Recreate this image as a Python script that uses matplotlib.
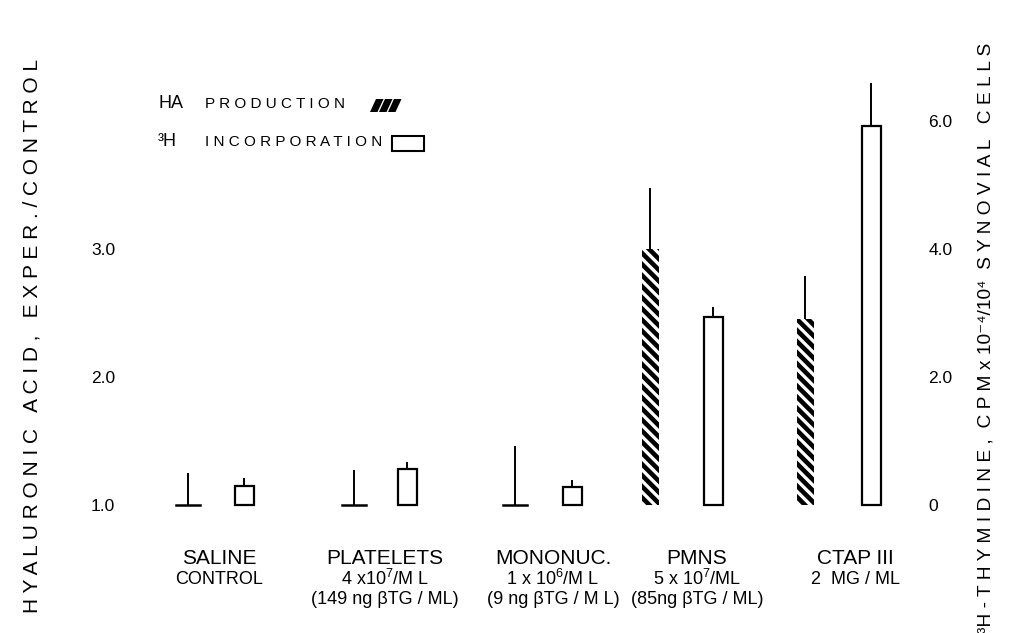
import numpy as np
from matplotlib import pyplot as plt
from matplotlib.patches import Rectangle, Polygon

# Data
groups = ['SALINE', 'PLATELETS', 'MONONUC.', 'PMNS', 'CTAP III']
ha_vals = [1.0, 1.0, 1.0, 3.0, 2.45]          # hyaluronic acid, exper./control
ha_err = [0.25, 0.27, 0.46, 0.48, 0.34]
th_vals = [0.30, 0.56, 0.28, 2.94, 5.92]      # 3H-thymidine, cpm x 10^-4
th_err = [0.12, 0.11, 0.11, 0.16, 0.68]

left_ticks = [1.0, 2.0, 3.0]
left_ticklabels = ['1.0', '2.0', '3.0']
right_ticks = [0, 2, 4, 6]
right_ticklabels = ['0', '2.0', '4.0', '6.0']

label_rows = [
    ['SALINE', 'CONTROL', ''],
    ['PLATELETS', r'4 x10$^{7}$/M L', '(149 ng βTG / ML)'],
    ['MONONUC.', r'1 x 10$^{6}$/M L', '(9 ng βTG / M L)'],
    ['PMNS', r'5 x 10$^{7}$/ML', '(85ng βTG / ML)'],
    ['CTAP III', '2  MG / ML', ''],
]

# layout (x positions on the page)
ha_x = [188, 354, 515, 650, 805]
th_x = [244, 407, 572, 713, 871]
label_x = [219, 385, 553, 697, 855]

plt.rcParams['font.family'] = ['Liberation Sans', 'DejaVu Sans']
plt.rcParams['mathtext.fontset'] = 'custom'
plt.rcParams['mathtext.rm'] = 'Liberation Sans'
plt.rcParams['hatch.linewidth'] = 3.3

W, H = 1013, 633
fig = plt.figure(figsize=(W / 100, H / 100), dpi=100)
x0, x1 = 122, 920
ax = fig.add_axes([x0 / W, 0, (x1 - x0) / W, 1])
ax.set_xlim(x0, x1)
# 1.0 sits on the baseline at y=505 px, 128 px per unit
ax.set_ylim(1 - 128 / 128, 1 + 505 / 128)
ax2 = ax.twinx()
ax2.set_ylim(-128 / 64, 505 / 64)

for a in (ax, ax2):
    for s in a.spines.values():
        s.set_visible(False)
    a.tick_params(length=0)
    a.set_xticks([])

# HA production bars (start at 1.0 = control)
ha_h = np.array(ha_vals) - 1.0
for x, h in zip(ha_x, ha_h):
    if h > 0:
        ax.bar(x, h, width=17, bottom=1.0, color='white', edgecolor='black',
               hatch='\\\\\\', linewidth=0)
    else:
        ax.plot([x - 12, x + 12], [1.0, 1.0], color='black', lw=1.8)
ax.errorbar(ha_x, ha_vals, yerr=[np.zeros(5), ha_err], fmt='none',
            ecolor='black', elinewidth=1.4, capsize=0)

# 3H incorporation bars on the right axis
ax2.bar(th_x, th_vals, width=19, color='white', edgecolor='black', linewidth=1.6)
ax2.errorbar(th_x, th_vals, yerr=[np.zeros(5), th_err], fmt='none',
             ecolor='black', elinewidth=1.4, capsize=0)

ax.set_yticks(left_ticks)
ax.set_yticklabels(left_ticklabels, fontsize=12.5)
ax.tick_params(axis='y', pad=5)
ax2.set_yticks(right_ticks)
ax2.set_yticklabels(right_ticklabels, fontsize=12.5)
ax2.tick_params(axis='y', pad=6)


def fx(px):
    return px / W


def fy(py):
    return 1 - py / H


# category labels under the bars
for x, rows in zip(label_x, label_rows):
    fig.text(fx(x), fy(558), rows[0], ha='center', va='center', fontsize=15)
    fig.text(fx(x), fy(579), rows[1], ha='center', va='center', fontsize=13)
    if rows[2]:
        fig.text(fx(x), fy(600), rows[2], ha='center', va='center', fontsize=13)

# axis titles
fig.text(fx(32), fy(336), 'H Y A L U R O N I C   A C I D ,   E X P E R . / C O N T R O L',
         rotation=90, ha='center', va='center', fontsize=15)
fig.text(fx(986), fy(338),
         '³H - T H Y M I D I N E ,  C P M x 10⁻⁴/10⁴  S Y N O V I A L   C E L L S',
         rotation=90, ha='center', va='center', fontsize=13.8)

# legend
fig.text(fx(158), fy(104), 'HA', ha='left', va='center', fontsize=13)
fig.text(fx(205), fy(104), 'P R O D U C T I O N', ha='left', va='center', fontsize=11)
fig.text(fx(158), fy(142), '³H', ha='left', va='center', fontsize=13)
fig.text(fx(205), fy(142), 'I N C O R P O R A T I O N', ha='left', va='center', fontsize=11)
for i in range(3):
    dx = 370 + i * 9
    strip = Polygon([[fx(dx), fy(112)], [fx(dx + 6), fy(99)], [fx(dx + 13.5), fy(99)],
                     [fx(dx + 7.5), fy(112)]], closed=True, transform=fig.transFigure,
                    facecolor='black', edgecolor='none')
    fig.patches.append(strip)
box = Rectangle((fx(392), fy(151)), (424 - 392) / W, 15 / H, transform=fig.transFigure,
                facecolor='white', edgecolor='black', linewidth=1.5)
fig.patches.append(box)

fig.savefig('out.png', dpi=100)
